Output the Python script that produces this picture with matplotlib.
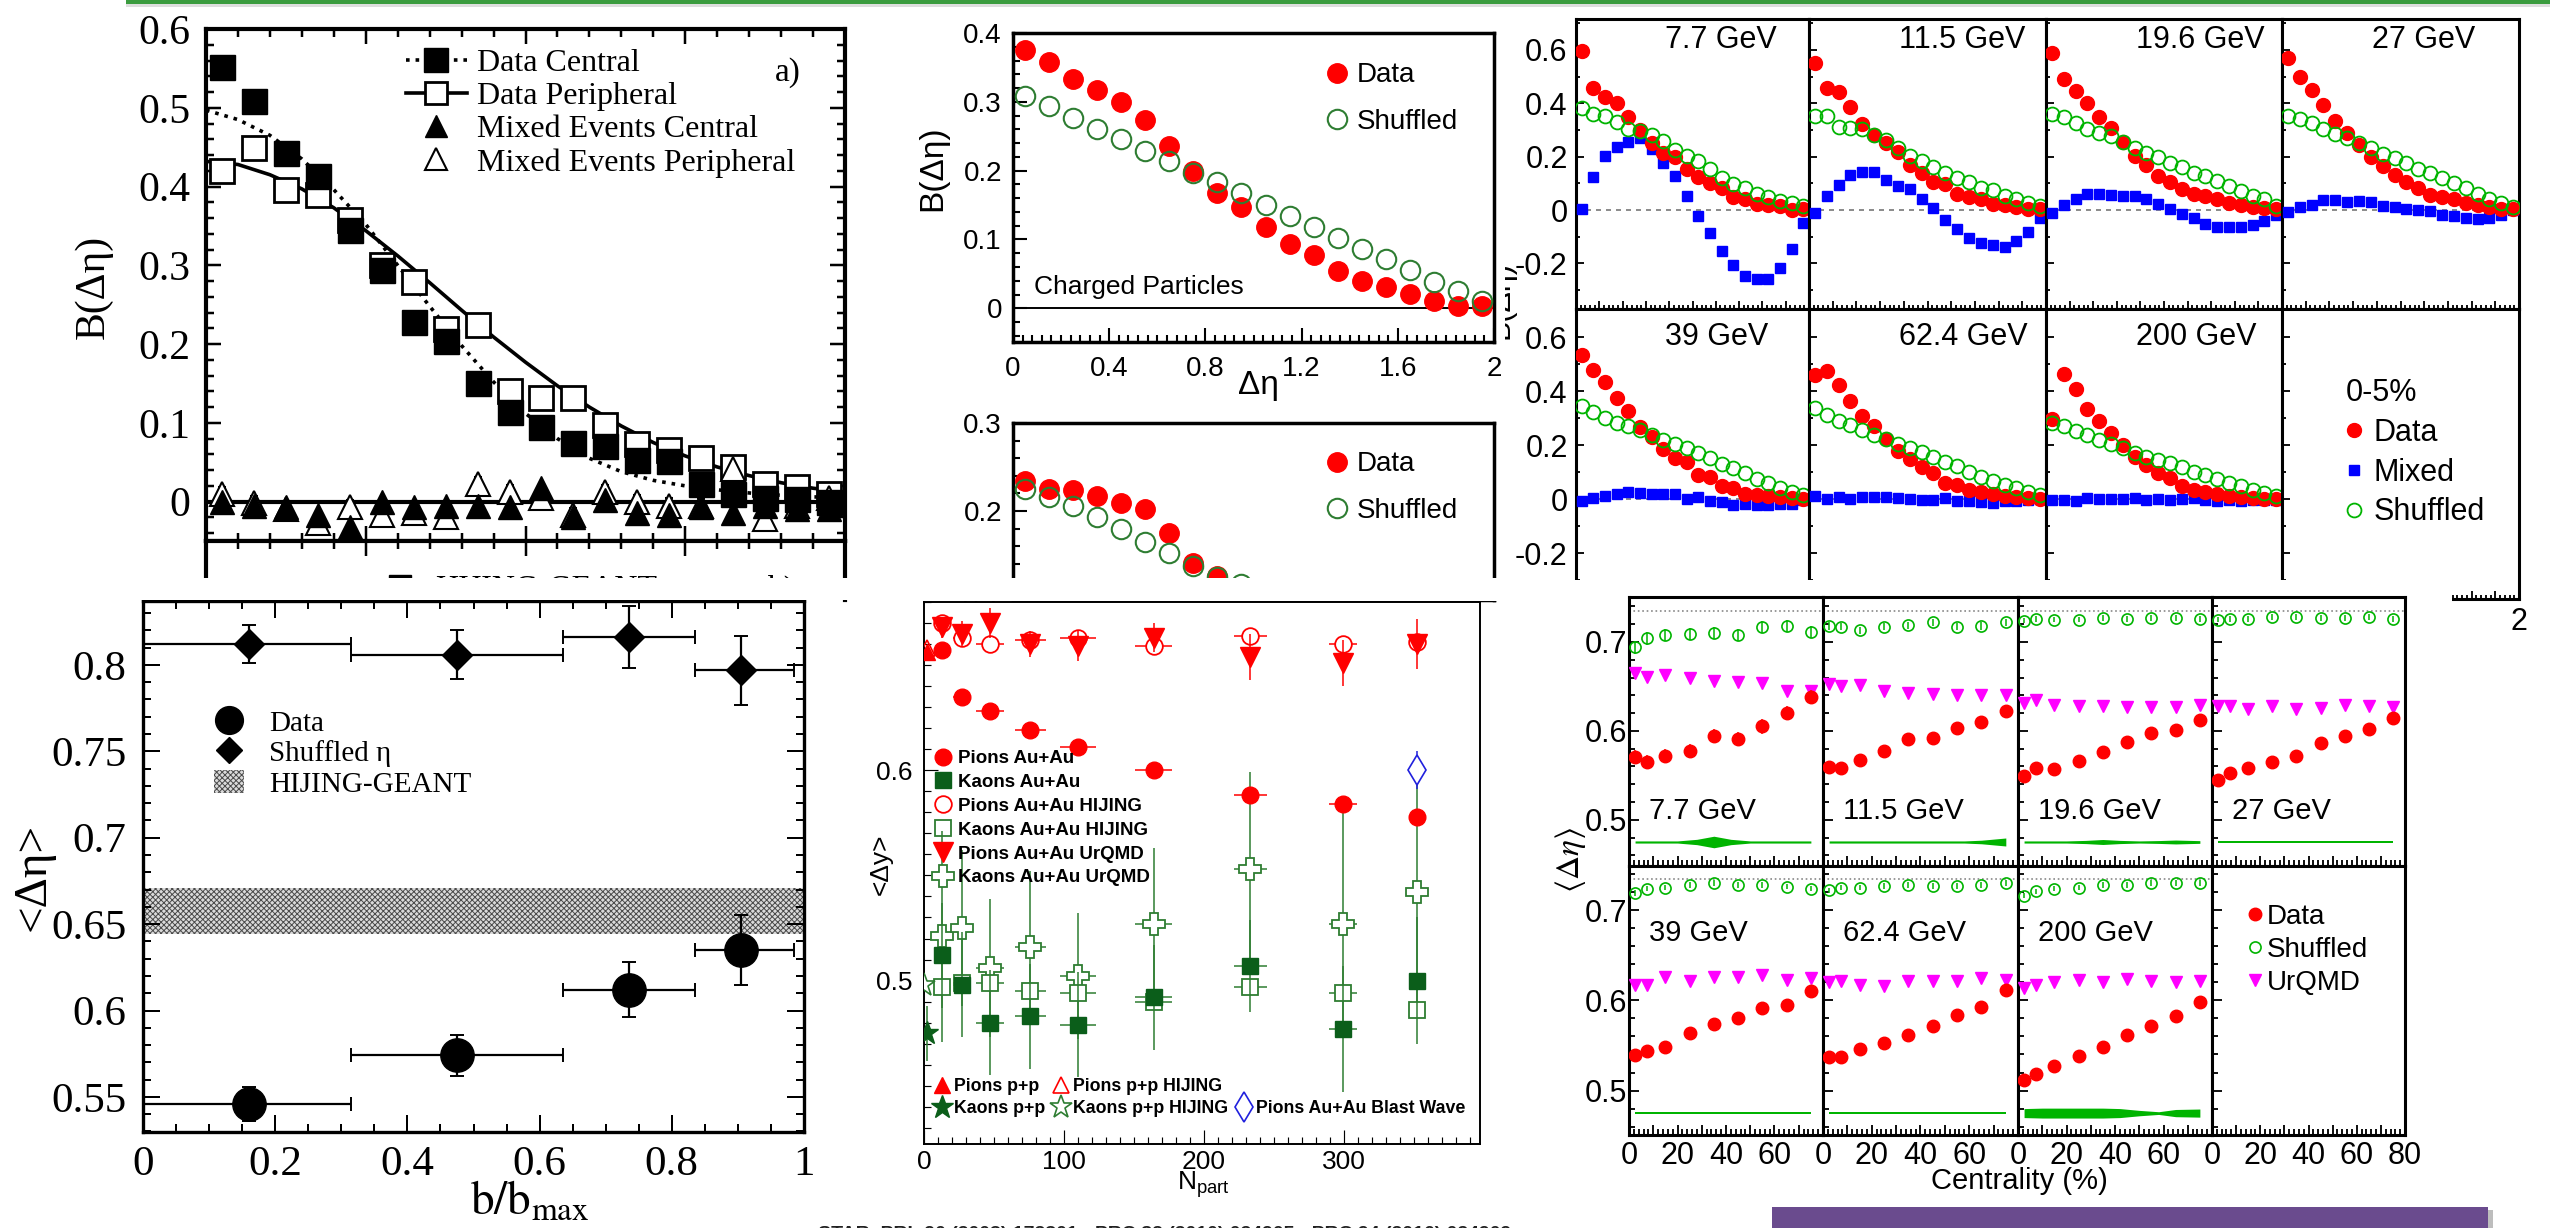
#!/usr/bin/env python3
"""
Balance function summary sheet: B(delta-eta) and its width <delta-eta>
for several STAR measurements, laid out as one wide slide.
"""

import matplotlib
matplotlib.use('Agg')  # Non-interactive backend
import matplotlib.pyplot as plt
from matplotlib.lines import Line2D
from matplotlib.patches import Patch, Rectangle
from matplotlib.ticker import MultipleLocator, FuncFormatter

SANS = 'Liberation Sans'
SERIF = 'Liberation Serif'
W, H = 2550, 1228

plt.rcParams['font.family'] = SANS
plt.rcParams['mathtext.fontset'] = 'custom'
plt.rcParams['mathtext.rm'] = SANS
plt.rcParams['mathtext.it'] = SANS + ':italic'
plt.rcParams['hatch.linewidth'] = 0.7

# ---------------------------------------------------------------- data
ETA_BINS = [0.05, 0.15, 0.25, 0.35, 0.45, 0.55, 0.65, 0.75, 0.85, 0.95,
            1.05, 1.15, 1.25, 1.35, 1.45, 1.55, 1.65, 1.75, 1.85, 1.95]

# a) Au+Au 130 GeV, central / peripheral
BF_CENTRAL = [0.552, 0.508, 0.442, 0.413, 0.345, 0.294, 0.228, 0.204, 0.151, 0.114,
              0.095, 0.075, 0.070, 0.053, 0.051, 0.022, 0.010, 0.005, 0.003, 0.000]
BF_PERIPH = [0.420, 0.449, 0.396, 0.389, 0.357, 0.301, 0.279, 0.219, 0.224, 0.141,
             0.131, 0.131, 0.097, 0.073, 0.066, 0.056, 0.044, 0.022, 0.019, 0.010]
BF_PERIPH_ERR = 0.013
MIX_CENTRAL = [0.000, -0.005, -0.007, -0.017, -0.032, 0.000, -0.007, -0.005, -0.005, -0.007,
               0.017, -0.019, 0.002, -0.015, -0.017, -0.007, -0.015, -0.005, -0.010, -0.010]
MIX_PERIPH = [0.010, -0.002, -0.010, -0.027, -0.007, -0.017, -0.015, -0.019, 0.022, 0.012,
              0.005, -0.017, 0.012, 0.000, -0.005, -0.005, 0.041, -0.022, -0.005, 0.005]
MIX_ERR = 0.009
FIT_X = [0.0, 0.1, 0.2, 0.3, 0.4, 0.5, 0.6, 0.7, 0.8, 0.9, 1.0,
         1.1, 1.2, 1.3, 1.4, 1.5, 1.6, 1.7, 1.8, 1.9, 2.0]
FIT_CENTRAL = [0.497, 0.485, 0.465, 0.435, 0.396, 0.352, 0.300, 0.248, 0.198, 0.152, 0.112,
               0.080, 0.055, 0.038, 0.027, 0.020, 0.015, 0.011, 0.008, 0.006, 0.005]
FIT_PERIPH = [0.432, 0.428, 0.415, 0.397, 0.373, 0.344, 0.312, 0.278, 0.243, 0.209, 0.177,
              0.147, 0.120, 0.096, 0.075, 0.058, 0.044, 0.033, 0.024, 0.017, 0.012]

# <delta-eta> vs impact parameter
BB_CENTER = [0.16, 0.475, 0.735, 0.905]
BB_LOW = [0.0, 0.315, 0.635, 0.835]
BB_HIGH = [0.315, 0.635, 0.835, 0.985]
WIDTH_BB_DATA = [0.546, 0.574, 0.612, 0.635]
WIDTH_BB_DATA_ERR = [0.010, 0.012, 0.016, 0.020]
WIDTH_BB_SHUF = [0.812, 0.806, 0.816, 0.797]
WIDTH_BB_SHUF_ERR = [0.011, 0.014, 0.018, 0.020]
HIJING_BAND = (0.644, 0.671)

# charged particles, 200 GeV
BF_CHARGED_DATA = [0.375, 0.358, 0.333, 0.317, 0.300, 0.274, 0.236, 0.200, 0.167, 0.147,
                   0.118, 0.094, 0.078, 0.054, 0.039, 0.031, 0.021, 0.011, 0.004, 0.003]
BF_CHARGED_SHUF = [0.308, 0.294, 0.276, 0.261, 0.246, 0.229, 0.214, 0.197, 0.183, 0.167,
                   0.150, 0.134, 0.118, 0.102, 0.086, 0.071, 0.056, 0.038, 0.025, 0.010]
BF_PID_DATA = [0.234, 0.225, 0.224, 0.217, 0.209, 0.202, 0.175, 0.141, 0.126, 0.112]
BF_PID_SHUF = [0.225, 0.216, 0.206, 0.193, 0.180, 0.165, 0.152, 0.137, 0.125, 0.117]

# <delta-y> vs Npart
NPART = [13, 27, 47, 76, 110, 164, 233, 299, 352]
NPART_ERR = [3, 6, 10, 11, 13, 13, 12, 10, 6]
DY_PI = [0.657, 0.635, 0.628, 0.619, 0.611, 0.600, 0.588, 0.584, 0.578]
DY_K = [0.512, 0.498, 0.480, 0.483, 0.479, 0.492, 0.507, 0.477, 0.500]
DY_K_ERR = [0.025, 0.025, 0.025, 0.025, 0.025, 0.025, 0.022, 0.030, 0.030]
DY_PI_HIJING = [0.670, 0.663, 0.660, 0.662, 0.663, 0.659, 0.664, 0.660, 0.661]
DY_K_HIJING = [0.497, 0.499, 0.499, 0.495, 0.494, 0.490, 0.497, 0.494, 0.486]
DY_PI_URQMD = [0.668, 0.665, 0.670, 0.660, 0.659, 0.663, 0.654, 0.651, 0.660]
DY_PI_URQMD_ERR = [0.005, 0.006, 0.007, 0.006, 0.007, 0.007, 0.011, 0.011, 0.012]
DY_K_URQMD = [0.521, 0.525, 0.506, 0.516, 0.502, 0.527, 0.553, 0.527, 0.542]
DY_K_URQMD_ERR = [0.050, 0.037, 0.033, 0.036, 0.030, 0.036, 0.046, 0.053, 0.052]
PP_NPART = 2
DY_PI_PP, DY_PI_PP_HIJING = 0.656, 0.658
DY_K_PP, DY_K_PP_ERR, DY_K_PP_HIJING = 0.475, 0.013, 0.498
DY_BLAST, DY_BLAST_ERR = 0.600, 0.009

# beam energy scan, 0-5%
ENERGIES = ['7.7 GeV', '11.5 GeV', '19.6 GeV', '27 GeV', '39 GeV', '62.4 GeV', '200 GeV']
BES_DATA = [
    [0.597, 0.457, 0.423, 0.400, 0.347, 0.300, 0.251, 0.214, 0.200, 0.154,
     0.123, 0.100, 0.083, 0.047, 0.040, 0.023, 0.019, 0.016, 0.000, 0.004],
    [0.551, 0.457, 0.443, 0.386, 0.323, 0.283, 0.251, 0.219, 0.169, 0.140,
     0.104, 0.097, 0.061, 0.047, 0.040, 0.023, 0.019, 0.011, 0.004, 0.004],
    [0.590, 0.490, 0.447, 0.400, 0.347, 0.309, 0.254, 0.204, 0.169, 0.129,
     0.104, 0.080, 0.061, 0.054, 0.043, 0.026, 0.019, 0.011, 0.007, 0.004],
    [0.571, 0.497, 0.451, 0.394, 0.333, 0.290, 0.243, 0.200, 0.166, 0.133,
     0.104, 0.083, 0.057, 0.047, 0.040, 0.026, 0.019, 0.011, 0.004, 0.004],
    [0.532, 0.479, 0.433, 0.373, 0.328, 0.267, 0.231, 0.186, 0.153, 0.139,
     0.089, 0.082, 0.047, 0.040, 0.018, 0.016, 0.011, 0.007, 0.004, 0.000],
    [0.458, 0.475, 0.423, 0.362, 0.309, 0.271, 0.224, 0.177, 0.149, 0.118,
     0.096, 0.061, 0.054, 0.035, 0.026, 0.018, 0.011, 0.007, 0.004, 0.000],
    [0.295, 0.465, 0.409, 0.333, 0.291, 0.243, 0.200, 0.157, 0.125, 0.096,
     0.078, 0.050, 0.035, 0.026, 0.018, 0.011, 0.007, 0.004, 0.000, 0.000],
]
BES_SHUF = [
    [0.383, 0.359, 0.354, 0.329, 0.304, 0.297, 0.280, 0.257, 0.226, 0.204,
     0.183, 0.154, 0.119, 0.097, 0.083, 0.061, 0.047, 0.033, 0.026, 0.014],
    [0.354, 0.351, 0.311, 0.309, 0.304, 0.280, 0.261, 0.233, 0.204, 0.183,
     0.161, 0.140, 0.119, 0.104, 0.083, 0.076, 0.054, 0.040, 0.026, 0.014],
    [0.361, 0.347, 0.326, 0.304, 0.290, 0.276, 0.254, 0.233, 0.214, 0.197,
     0.176, 0.161, 0.140, 0.126, 0.109, 0.090, 0.071, 0.054, 0.040, 0.014],
    [0.354, 0.340, 0.326, 0.304, 0.286, 0.269, 0.251, 0.233, 0.211, 0.194,
     0.176, 0.154, 0.137, 0.119, 0.100, 0.083, 0.061, 0.043, 0.026, 0.011],
    [0.345, 0.323, 0.302, 0.281, 0.271, 0.257, 0.238, 0.220, 0.203, 0.189,
     0.172, 0.153, 0.129, 0.115, 0.096, 0.075, 0.058, 0.040, 0.028, 0.014],
    [0.338, 0.313, 0.291, 0.274, 0.257, 0.238, 0.224, 0.203, 0.191, 0.174,
     0.157, 0.139, 0.121, 0.101, 0.082, 0.068, 0.054, 0.040, 0.026, 0.014],
    [0.281, 0.271, 0.252, 0.238, 0.217, 0.203, 0.189, 0.172, 0.157, 0.146,
     0.132, 0.118, 0.101, 0.089, 0.075, 0.061, 0.047, 0.033, 0.021, 0.011],
]
BES_MIXED = [
    [0.004, 0.123, 0.204, 0.237, 0.254, 0.271, 0.229, 0.176, 0.126, 0.054,
     -0.024, -0.086, -0.153, -0.207, -0.249, -0.257, -0.257, -0.217, -0.146, -0.050],
    [-0.010, 0.054, 0.094, 0.133, 0.143, 0.143, 0.114, 0.090, 0.080, 0.043,
     0.007, -0.039, -0.071, -0.103, -0.124, -0.131, -0.139, -0.117, -0.081, -0.029],
    [-0.010, 0.019, 0.043, 0.061, 0.061, 0.057, 0.054, 0.054, 0.040, 0.023,
     0.004, -0.014, -0.031, -0.053, -0.063, -0.063, -0.063, -0.057, -0.043, -0.017],
    [-0.006, 0.011, 0.019, 0.037, 0.037, 0.029, 0.033, 0.029, 0.014, 0.011,
     0.004, 0.000, -0.003, -0.017, -0.024, -0.029, -0.034, -0.029, -0.017, 0.000],
    [-0.007, 0.004, 0.011, 0.018, 0.028, 0.021, 0.018, 0.018, 0.018, 0.001,
     0.007, -0.007, -0.010, -0.021, -0.017, -0.021, -0.021, -0.017, -0.017, -0.003],
    [0.011, 0.000, 0.007, 0.001, 0.007, 0.009, 0.007, 0.004, 0.001, -0.003,
     -0.003, 0.004, -0.006, -0.007, -0.010, -0.013, -0.007, -0.006, -0.003, 0.000],
    [-0.003, -0.003, -0.007, 0.004, 0.000, 0.000, 0.000, 0.004, -0.003, 0.000,
     -0.003, 0.001, 0.004, -0.003, -0.007, -0.003, -0.006, -0.003, -0.003, -0.003],
]

# widths vs centrality
CENT_BINS = [2.5, 7.5, 15, 25, 35, 45, 55, 65, 75]
WIDTH_DATA = [
    [0.571, 0.565, 0.572, 0.577, 0.594, 0.591, 0.605, 0.620, 0.638],
    [0.559, 0.558, 0.567, 0.577, 0.591, 0.592, 0.603, 0.610, 0.622],
    [0.549, 0.558, 0.557, 0.566, 0.576, 0.587, 0.598, 0.601, 0.612],
    [0.545, 0.553, 0.558, 0.565, 0.572, 0.586, 0.594, 0.602, 0.615],
    [0.539, 0.544, 0.548, 0.564, 0.574, 0.580, 0.591, 0.595, 0.610],
    [0.537, 0.537, 0.546, 0.553, 0.562, 0.572, 0.584, 0.593, 0.611],
    [0.512, 0.518, 0.527, 0.538, 0.548, 0.562, 0.572, 0.583, 0.598],
]
WIDTH_DATA_ERR = [0.008, 0.005, 0.003, 0.003, 0.003, 0.003, 0.003]
WIDTH_SHUF = [
    [0.694, 0.704, 0.708, 0.709, 0.710, 0.708, 0.717, 0.718, 0.711],
    [0.718, 0.717, 0.713, 0.717, 0.719, 0.722, 0.717, 0.718, 0.722],
    [0.724, 0.726, 0.725, 0.725, 0.727, 0.726, 0.727, 0.727, 0.726],
    [0.725, 0.726, 0.726, 0.728, 0.728, 0.727, 0.727, 0.728, 0.726],
    [0.719, 0.724, 0.725, 0.728, 0.730, 0.728, 0.728, 0.726, 0.724],
    [0.722, 0.725, 0.725, 0.727, 0.728, 0.727, 0.727, 0.728, 0.730],
    [0.716, 0.721, 0.724, 0.725, 0.728, 0.728, 0.730, 0.730, 0.730],
]
WIDTH_SHUF_ERR = [0.007, 0.004, 0.003, 0.003, 0.003, 0.003, 0.003]
WIDTH_URQMD = [
    [0.665, 0.661, 0.663, 0.659, 0.656, 0.655, 0.654, 0.645, 0.645],
    [0.653, 0.651, 0.652, 0.645, 0.643, 0.641, 0.640, 0.640, 0.640],
    [0.631, 0.635, 0.629, 0.628, 0.628, 0.627, 0.627, 0.627, 0.629],
    [0.628, 0.628, 0.625, 0.628, 0.625, 0.626, 0.629, 0.628, 0.627],
    [0.617, 0.617, 0.626, 0.621, 0.626, 0.626, 0.628, 0.623, 0.625],
    [0.620, 0.622, 0.617, 0.616, 0.621, 0.622, 0.621, 0.625, 0.623],
    [0.614, 0.617, 0.620, 0.623, 0.620, 0.624, 0.621, 0.620, 0.622],
]
SHUF_LIMIT = 0.735
BAND_Y = 0.475
BAND_X = [2.5, 10, 20, 28, 35, 42, 50, 58, 65, 75]
BAND_HW = [
    [0.0012, 0.0012, 0.0012, 0.003, 0.0065, 0.003, 0.0012, 0.0012, 0.0012, 0.0012],
    [0.0012, 0.0012, 0.0012, 0.0012, 0.0012, 0.0012, 0.0012, 0.0012, 0.002, 0.0045],
    [0.0012, 0.0012, 0.0012, 0.0018, 0.0028, 0.0018, 0.0012, 0.0016, 0.0022, 0.0015],
    [0.0012, 0.0012, 0.0012, 0.0012, 0.0012, 0.0012, 0.0012, 0.0012, 0.0012, 0.0012],
    [0.0012, 0.0012, 0.0012, 0.0012, 0.0012, 0.0012, 0.0012, 0.0012, 0.0012, 0.0012],
    [0.0012, 0.0012, 0.0012, 0.0012, 0.0012, 0.0012, 0.0012, 0.0012, 0.0012, 0.0012],
    [0.005, 0.0055, 0.0055, 0.0055, 0.0055, 0.005, 0.003, 0.0015, 0.004, 0.0045],
]

REFERENCES = "STAR, PRL 90 (2003) 172301;  PRC 82 (2010) 024905;  PRC 94 (2016) 024909"

RED = '#ff0000'
DARK_GREEN = '#0b5e1a'
MID_GREEN = '#2e7d32'
BRIGHT_GREEN = '#00b400'

fig = plt.figure(figsize=(W / 100, H / 100), dpi=100)


def add_ax(x0, y0, x1, y1, zorder=0):
    """Axes from pixel edges (top-left origin)."""
    return fig.add_axes([x0 / W, 1 - y1 / H, (x1 - x0) / W, (y1 - y0) / H], zorder=zorder)


def fig_rect(x0, y0, x1, y1, color, zorder):
    fig.add_artist(Rectangle((x0 / W, 1 - y1 / H), (x1 - x0) / W, (y1 - y0) / H,
                             transform=fig.transFigure, facecolor=color,
                             edgecolor='none', zorder=zorder))


def fig_text(x, y, s, **kw):
    kw.setdefault('ha', 'center')
    kw.setdefault('va', 'center')
    return fig.text(x / W, 1 - y / H, s, **kw)


def plain(v, pos):
    return f'{round(v, 6) + 0.0:g}'


def style(ax, lw, major, minor, size, pad, family, sides='lb'):
    for sp in ax.spines.values():
        sp.set_linewidth(lw)
    ax.tick_params(which='both', direction='in', left='l' in sides, bottom='b' in sides,
                   right='r' in sides, top='t' in sides, width=max(lw * 0.6, 0.8))
    ax.tick_params(which='major', length=major, labelsize=size, pad=pad,
                   labelfontfamily=family)
    ax.tick_params(which='minor', length=minor)
    ax.xaxis.set_major_formatter(FuncFormatter(plain))
    ax.yaxis.set_major_formatter(FuncFormatter(plain))


def draw_central_peripheral():
    """Panel a) with the cropped top of panel b) underneath."""
    ax = add_ax(206, 29, 845, 541)
    ax.plot(FIT_X, FIT_CENTRAL, ls=':', color='black', lw=2.6, zorder=2)
    ax.plot(FIT_X, FIT_PERIPH, color='black', lw=2.6, zorder=2)
    ax.axhline(0, color='black', lw=3, zorder=1)
    ax.errorbar(ETA_BINS, BF_PERIPH, yerr=BF_PERIPH_ERR, fmt='s', ms=17, mfc='white',
                mec='black', mew=2, ecolor='black', elinewidth=1.2, capsize=3, zorder=3)
    ax.plot(ETA_BINS, BF_CENTRAL, 's', color='black', ms=18, zorder=4)
    ax.errorbar(ETA_BINS, MIX_PERIPH, yerr=MIX_ERR, fmt='^', ms=17, mfc='white',
                mec='black', mew=1.5, ecolor='black', elinewidth=1.2, capsize=3, zorder=3)
    ax.plot(ETA_BINS, MIX_CENTRAL, '^', color='black', ms=17, zorder=4)
    ax.set_xlim(0, 2)
    ax.set_ylim(-0.05, 0.6)
    ax.xaxis.set_major_locator(MultipleLocator(0.5))
    ax.xaxis.set_minor_locator(MultipleLocator(0.1))
    ax.yaxis.set_major_locator(MultipleLocator(0.1))
    ax.yaxis.set_minor_locator(MultipleLocator(0.02))
    style(ax, 3, 11, 6, 30, 11, SERIF, sides='lbrt')
    ax.tick_params(labelbottom=False)

    handles = [
        Line2D([], [], ls=':', lw=2.6, color='black', marker='s', ms=17),
        Line2D([], [], ls='-', lw=2.6, color='black', marker='s', ms=16, mfc='white', mew=2),
        Line2D([], [], ls='none', marker='^', color='black', ms=16),
        Line2D([], [], ls='none', marker='^', mfc='white', mec='black', ms=16, mew=1.5),
    ]
    labels = ['Data Central', 'Data Peripheral', 'Mixed Events Central',
              'Mixed Events Peripheral']
    ax.legend(handles, labels, loc='upper left', bbox_to_anchor=(0.313, 0.962),
              frameon=False, prop={'family': SERIF, 'size': 23}, handlelength=1.9,
              handletextpad=0.33, labelspacing=0.12, borderpad=0, borderaxespad=0)
    ax.text(0.91, 0.915, 'a)', transform=ax.transAxes, ha='center', va='center',
            family=SERIF, size=24)
    fig_text(93, 287, 'B(Δη)', rotation=90, family=SERIF, size=30)

    # panel b) only its top edge survives
    axb = add_ax(206, 541, 845, 600)
    axb.set_xlim(0, 2)
    axb.set_ylim(0, 1)
    axb.xaxis.set_major_locator(MultipleLocator(0.5))
    axb.xaxis.set_minor_locator(MultipleLocator(0.1))
    style(axb, 3, 11, 6, 30, 11, SERIF, sides='t')
    axb.tick_params(labeltop=False, labelbottom=False, labelleft=False)
    axb.set_yticks([])
    axb.spines['bottom'].set_visible(False)
    axb.legend([Line2D([], [], ls='none', marker='s', color='black', ms=16)],
               ['HIJING-GEANT'], loc='upper left', bbox_to_anchor=(0.279, 0.43),
               frameon=False, prop={'family': SERIF, 'size': 23}, handlelength=1.0,
               handletextpad=0.6, borderpad=0, borderaxespad=0)
    axb.text(0.879, 0.43, 'b)', transform=axb.transAxes, ha='left', va='top',
             family=SERIF, size=24)
    fig_rect(100, 578, 900, 600, 'white', 1)


def draw_width_vs_b():
    ax = add_ax(143, 601, 804, 1132)
    lo_d = [c - lo for c, lo in zip(BB_CENTER, BB_LOW)]
    hi_d = [hi - c for c, hi in zip(BB_CENTER, BB_HIGH)]
    ax.axhspan(*HIJING_BAND, facecolor='#dadada', hatch='xxxxxx', edgecolor='#4a4a4a',
               linewidth=0, zorder=1)
    ax.errorbar(BB_CENTER, WIDTH_BB_DATA, xerr=[lo_d, hi_d], yerr=WIDTH_BB_DATA_ERR,
                fmt='o', color='black', ms=24, elinewidth=1.6, capsize=5, capthick=1.4,
                zorder=3)
    ax.errorbar(BB_CENTER, WIDTH_BB_SHUF, xerr=[lo_d, hi_d], yerr=WIDTH_BB_SHUF_ERR,
                fmt='D', color='black', ms=15, elinewidth=1.6, capsize=5, capthick=1.4,
                zorder=3)
    ax.set_xlim(0, 1)
    ax.set_ylim(0.5297, 0.837)
    ax.xaxis.set_major_locator(MultipleLocator(0.2))
    ax.xaxis.set_minor_locator(MultipleLocator(0.05))
    ax.yaxis.set_major_locator(MultipleLocator(0.05))
    ax.yaxis.set_minor_locator(MultipleLocator(0.01))
    style(ax, 2.4, 12, 6, 31, 12, SERIF, sides='lbrt')
    ax.tick_params(axis='x', pad=10)

    handles = [Line2D([], [], ls='none', marker='o', color='black', ms=20),
               Line2D([], [], ls='none', marker='D', color='black', ms=13),
               Patch(facecolor='#dadada', hatch='xxxxxx', edgecolor='#4a4a4a', linewidth=0)]
    ax.legend(handles, ['Data', 'Shuffled η', 'HIJING-GEANT'], loc='upper left',
              bbox_to_anchor=(0.107, 0.797), frameon=False,
              prop={'family': SERIF, 'size': 21}, handlelength=1.05, handleheight=0.85,
              handletextpad=0.85, labelspacing=0.1, borderpad=0, borderaxespad=0)
    fig_text(33, 877, '<Δη>', rotation=90, family=SERIF, size=34)
    fig_text(470, 1215, r'$\mathrm{b/b}_{\mathrm{max}}$', ha='left', va='baseline',
             size=34, math_fontfamily='stix')


def draw_charged():
    ax = add_ax(1013, 33, 1494, 342)
    ax.axhline(0, color='black', lw=1.4, zorder=1)
    ax.plot(ETA_BINS, BF_CHARGED_DATA, 'o', color=RED, ms=14, zorder=3)
    ax.plot(ETA_BINS, BF_CHARGED_SHUF, 'o', mfc='none', mec=MID_GREEN, ms=14, mew=1.5,
            zorder=4)
    ax.set_xlim(0, 2)
    ax.set_ylim(-0.049, 0.4)
    ax.xaxis.set_major_locator(MultipleLocator(0.4))
    ax.xaxis.set_minor_locator(MultipleLocator(0.04))
    ax.yaxis.set_major_locator(MultipleLocator(0.1))
    ax.yaxis.set_minor_locator(MultipleLocator(0.02))
    style(ax, 2.5, 10, 5, 20, 8, SANS)
    ax.tick_params(axis='x', pad=10)
    ax.text(0.044, 0.178, 'Charged Particles', transform=ax.transAxes, ha='left',
            va='center', size=19)
    legend_bf(ax, 0.905)
    fig_text(933, 168, 'B(Δη)', rotation=90, size=24)
    fig_text(1258, 386, 'Δη', size=24)

    # identified-particle panel below, cut off at the bottom
    axe = add_ax(1013, 423, 1494, 600)
    axe.plot(ETA_BINS[:len(BF_PID_DATA)], BF_PID_DATA, 'o', color=RED, ms=14, zorder=3)
    axe.plot(ETA_BINS[:len(BF_PID_SHUF)], BF_PID_SHUF, 'o', mfc='none', mec=MID_GREEN,
             ms=14, mew=1.5, zorder=4)
    axe.set_xlim(0, 2)
    axe.set_ylim(0.0989, 0.3)
    axe.xaxis.set_major_locator(MultipleLocator(0.4))
    axe.yaxis.set_major_locator(MultipleLocator(0.1))
    axe.yaxis.set_minor_locator(MultipleLocator(0.02))
    style(axe, 2.5, 10, 5, 20, 8, SANS)
    axe.tick_params(labelbottom=False)
    legend_bf(axe, 0.84)
    fig_rect(960, 578, 1540, 601, 'white', 1)

    # y title of the energy-scan grid, mostly hidden behind this column
    fig_text(1501, 300, 'B(Δη)', rotation=90, size=22, zorder=-1)
    fig_rect(1440, 240, 1505, 360, 'white', -0.5)


def legend_bf(ax, top):
    handles = [Line2D([], [], ls='none', marker='o', color=RED, ms=14),
               Line2D([], [], ls='none', marker='o', mfc='none', mec=MID_GREEN, ms=14,
                      mew=1.5)]
    ax.legend(handles, ['Data', 'Shuffled'], loc='upper left', bbox_to_anchor=(0.653, top),
              frameon=False, prop={'size': 20}, handlelength=0.7, handletextpad=0.36,
              labelspacing=0.75, borderpad=0, borderaxespad=0)


def draw_dy_npart():
    ax = add_ax(924, 602, 1480, 1144)
    ebar = dict(elinewidth=1.1, capsize=0, ls='none')
    ax.errorbar(NPART, DY_K_URQMD, yerr=DY_K_URQMD_ERR, xerr=NPART_ERR, fmt='P', ms=16,
                mfc='white', mec=MID_GREEN, mew=1.3, ecolor=MID_GREEN, zorder=3, **ebar)
    ax.errorbar(NPART, DY_K, yerr=DY_K_ERR, xerr=NPART_ERR, fmt='s', ms=11,
                color=DARK_GREEN, ecolor=MID_GREEN, zorder=4, **ebar)
    ax.errorbar(NPART, DY_K_HIJING, xerr=NPART_ERR, fmt='s', ms=11, mfc='white',
                mec=MID_GREEN, mew=1.3, ecolor=MID_GREEN, zorder=3, **ebar)
    ax.errorbar(NPART, DY_PI_HIJING, xerr=NPART_ERR, fmt='o', ms=12, mfc='white',
                mec=RED, mew=1.3, ecolor=RED, zorder=3, **ebar)
    ax.errorbar(NPART, DY_PI_URQMD, yerr=DY_PI_URQMD_ERR, fmt='v', ms=14, color=RED,
                ecolor=RED, zorder=4, **ebar)
    ax.errorbar(NPART, DY_PI, xerr=NPART_ERR, fmt='o', ms=12, color=RED, ecolor=RED,
                zorder=4, **ebar)
    ax.plot([PP_NPART], [DY_PI_PP], '^', color=RED, ms=12, zorder=4)
    ax.plot([PP_NPART], [DY_PI_PP_HIJING], '^', mfc='none', mec=RED, ms=12, mew=1.2,
            zorder=5)
    ax.errorbar([PP_NPART], [DY_K_PP], yerr=[DY_K_PP_ERR], fmt='*', ms=17,
                color=DARK_GREEN, ecolor=MID_GREEN, zorder=4, **ebar)
    ax.plot([0], [DY_K_PP_HIJING], '*', mfc='white', mec=MID_GREEN, ms=17, mew=1.2,
            zorder=4)
    ax.errorbar([NPART[-1]], [DY_BLAST], yerr=[DY_BLAST_ERR], fmt='d', ms=15,
                mfc='white', mec='#2020dd', mew=1.2, ecolor='#2020dd', zorder=4, **ebar)
    ax.set_xlim(0, 397)
    ax.set_ylim(0.4223, 0.68)
    ax.xaxis.set_major_locator(MultipleLocator(100))
    ax.xaxis.set_minor_locator(MultipleLocator(10))
    ax.yaxis.set_major_locator(MultipleLocator(0.1))
    ax.yaxis.set_minor_locator(MultipleLocator(0.01))
    style(ax, 1.4, 10, 5, 19, 8, SANS)
    ax.tick_params(axis='x', pad=4)

    h1 = [Line2D([], [], ls='none', marker='o', color=RED, ms=12),
          Line2D([], [], ls='none', marker='s', color=DARK_GREEN, ms=11),
          Line2D([], [], ls='none', marker='o', mfc='none', mec=RED, ms=12, mew=1.3),
          Line2D([], [], ls='none', marker='s', mfc='none', mec=MID_GREEN, ms=11, mew=1.3),
          Line2D([], [], ls='none', marker='v', color=RED, ms=14),
          Line2D([], [], ls='none', marker='P', mfc='white', mec=MID_GREEN, ms=16, mew=1.3)]
    l1 = ['Pions Au+Au', 'Kaons Au+Au', 'Pions Au+Au HIJING', 'Kaons Au+Au HIJING',
          'Pions Au+Au UrQMD', 'Kaons Au+Au UrQMD']
    leg = ax.legend(h1, l1, loc='upper left', bbox_to_anchor=(0.018, 0.727), frameon=False,
                    prop={'size': 13.5, 'weight': 'bold'}, handlelength=0.95,
                    handletextpad=0.35, labelspacing=0.36, borderpad=0, borderaxespad=0)
    ax.add_artist(leg)
    h2 = [Line2D([], [], ls='none', marker='^', color=RED, ms=12),
          Line2D([], [], ls='none', marker='*', color=DARK_GREEN, ms=17),
          Line2D([], [], ls='none', marker='^', mfc='none', mec=RED, ms=12, mew=1.2),
          Line2D([], [], ls='none', marker='*', mfc='none', mec=MID_GREEN, ms=17, mew=1.2),
          Line2D([], [], ls='none'),
          Line2D([], [], ls='none', marker='d', mfc='none', mec='#2020dd', ms=15, mew=1.2)]
    l2 = ['Pions p+p', 'Kaons p+p', 'Pions p+p HIJING', 'Kaons p+p HIJING', '',
          'Pions Au+Au Blast Wave']
    ax.legend(h2, l2, ncol=3, loc='upper left', bbox_to_anchor=(0.018, 0.122),
              frameon=False, prop={'size': 12.8, 'weight': 'bold'}, handlelength=0.95,
              handletextpad=0.2, labelspacing=0.3, columnspacing=0.4, borderpad=0,
              borderaxespad=0)
    fig_text(881, 864, '<Δy>', rotation=90, size=19)
    fig_text(1204, 1185, r'$\mathrm{N}_{\mathrm{part}}$', size=19)


def draw_energy_scan():
    """Two rows of B(delta-eta) for the beam energy scan."""
    gx = [1576, 1809, 2046, 2282, 2519]
    gy = [19, 309, 599]
    for k in range(8):
        row, col = divmod(k, 4)
        ax = add_ax(gx[col], gy[row], gx[col + 1], gy[row + 1])
        ax.set_xlim(0, 2)
        ax.set_ylim((-0.371, 0.716) if row == 0 else (-0.37, 0.704))
        ax.xaxis.set_major_locator(MultipleLocator(0.2))
        ax.xaxis.set_minor_locator(MultipleLocator(0.04))
        ax.yaxis.set_major_locator(MultipleLocator(0.2))
        ax.yaxis.set_minor_locator(MultipleLocator(0.1))
        style(ax, 2.2, 6, 3, 22, 6, SANS)
        ax.tick_params(labelleft=(col == 0), labelbottom=(row == 1 and col == 3))
        if row == 1 and col == 3:
            ax.xaxis.set_major_formatter(FuncFormatter(
                lambda v, p: '2' if abs(v - 2) < 1e-6 else ''))
        if k < len(ENERGIES):
            ax.axhline(0, color='#777777', ls=(0, (3, 3)), lw=1.2, zorder=1)
            ax.plot(ETA_BINS, BES_MIXED[k], 's', color='#0000ff', ms=7, zorder=3)
            ax.plot(ETA_BINS, BES_DATA[k], 'o', color=RED, ms=10, zorder=4)
            ax.plot(ETA_BINS, BES_SHUF[k], 'o', mfc='none', mec=BRIGHT_GREEN, ms=10,
                    mew=1.3, zorder=5)
            ax.text(0.38, 0.928 if row == 0 else 0.903, ENERGIES[k], transform=ax.transAxes,
                    ha='left', va='center', size=22)
        else:
            handles = [Line2D([], [], ls='none', marker='o', color=RED, ms=10),
                       Line2D([], [], ls='none', marker='s', color='#0000ff', ms=7),
                       Line2D([], [], ls='none', marker='o', mfc='none', mec=BRIGHT_GREEN,
                              ms=10, mew=1.3)]
            ax.legend(handles, ['Data', 'Mixed', 'Shuffled'], title='0-5%',
                      title_fontsize=22, alignment='left', loc='upper left',
                      bbox_to_anchor=(0.27, 0.762), frameon=False, prop={'size': 22},
                      handlelength=0.5, handletextpad=0.4, labelspacing=0.32,
                      borderpad=0, borderaxespad=0)
    # the centrality grid sits on top of this figure's lower edge
    fig_rect(1520, 580, 2452, 1228, 'white', 1)


def draw_width_centrality():
    hx = [1629, 1823, 2018, 2212, 2405]
    hy = [597, 866, 1135]
    for k in range(8):
        row, col = divmod(k, 4)
        ax = add_ax(hx[col], hy[row], hx[col + 1], hy[row + 1], zorder=2)
        ax.set_xlim(0, 80)
        ax.set_ylim(0.448 if row == 0 else 0.4507, 0.7506 if row == 0 else 0.749)
        ax.xaxis.set_major_locator(MultipleLocator(10))
        ax.xaxis.set_minor_locator(MultipleLocator(2))
        ax.yaxis.set_major_locator(MultipleLocator(0.1))
        ax.yaxis.set_minor_locator(MultipleLocator(0.02))
        style(ax, 2.2, 7, 4, 22, 1.5, SANS)
        ax.tick_params(axis='x', pad=4)
        ax.tick_params(labelleft=(col == 0), labelbottom=(row == 1))
        last = 80 if col == 3 else 60
        ax.xaxis.set_major_formatter(FuncFormatter(
            lambda v, p, last=last: f'{v:.0f}' if round(v) % 20 == 0 and v <= last else ''))
        if k < len(ENERGIES):
            ax.axhline(SHUF_LIMIT, color='#888888', ls=':', lw=1.2, zorder=1)
            ax.fill_between(BAND_X, [BAND_Y - h for h in BAND_HW[k]],
                            [BAND_Y + h for h in BAND_HW[k]], color=BRIGHT_GREEN, lw=0,
                            zorder=2)
            ax.errorbar(CENT_BINS, WIDTH_SHUF[k], yerr=WIDTH_SHUF_ERR[k], fmt='o', ms=8,
                        mfc='none', mec=BRIGHT_GREEN, mew=1.2, ecolor=BRIGHT_GREEN,
                        elinewidth=1.1, capsize=0, zorder=3)
            ax.plot(CENT_BINS, WIDTH_URQMD[k], 'v', color='#ff00ff', ms=9, zorder=3)
            ax.errorbar(CENT_BINS, WIDTH_DATA[k], yerr=WIDTH_DATA_ERR[k], fmt='o', ms=9,
                        color=RED, ecolor=RED, elinewidth=1.1, capsize=0, zorder=4)
            ax.text(0.103, 0.204 if row == 0 else 0.751, ENERGIES[k],
                    transform=ax.transAxes, ha='left', va='center', size=21)
        else:
            handles = [Line2D([], [], ls='none', marker='o', color=RED, ms=9),
                       Line2D([], [], ls='none', marker='o', mfc='none', mec=BRIGHT_GREEN,
                              ms=8, mew=1.2),
                       Line2D([], [], ls='none', marker='v', color='#ff00ff', ms=9)]
            ax.legend(handles, ['Data', 'Shuffled', 'UrQMD'], loc='upper left',
                      bbox_to_anchor=(0.19, 0.859), frameon=False, prop={'size': 20},
                      handlelength=0.45, handletextpad=0.2, labelspacing=0.25,
                      borderpad=0, borderaxespad=0)
    fig_text(1571, 860, r'$\langle\Delta\eta\rangle$', rotation=90, size=24,
             math_fontfamily='stix')
    fig_text(2019, 1181, 'Centrality (%)', size=21)


def draw_frame():
    """Slide decorations: title bar, footer box and reference line."""
    fig_rect(126, 0, W, 4, '#3b9c3f', 6)
    fig_rect(126, 4, W, 7, '#dedede', 6)
    fig_rect(1772, 1207, 2488, 1228, '#6a4b8e', 6)
    fig_rect(2488, 1210, 2493, 1228, '#bdbdbd', 6)
    fig_text(818, 1239, REFERENCES, ha='left', va='baseline', size=14,
             weight='bold', color='#222222')


draw_central_peripheral()
draw_width_vs_b()
draw_charged()
draw_dy_npart()
draw_energy_scan()
draw_width_centrality()
draw_frame()

fig.savefig('out.png', dpi=100)
